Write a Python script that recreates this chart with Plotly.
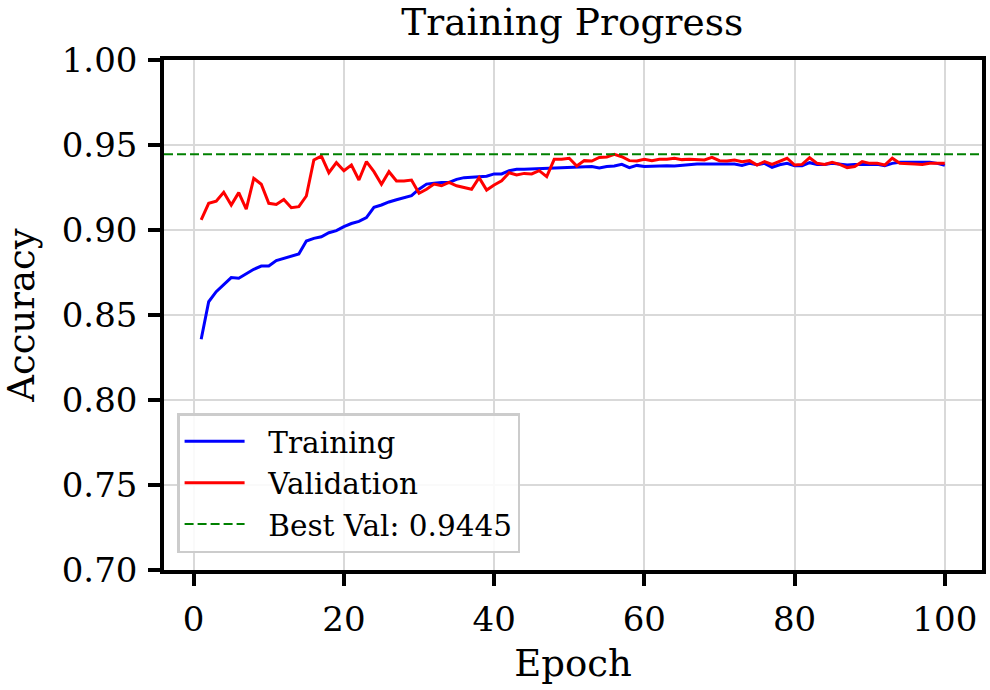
import plotly.graph_objects as go

epochs = list(range(1, 101))
train_acc = [
    0.8357, 0.8578, 0.8637, 0.8680, 0.8720, 0.8716, 0.8745, 0.8769, 0.8788, 0.8788,
    0.8820, 0.8833, 0.8843, 0.8859, 0.8935, 0.8951, 0.8960, 0.8984, 0.8996, 0.9020,
    0.9038, 0.9051, 0.9073, 0.9133, 0.9147, 0.9165, 0.9178, 0.9192, 0.9202, 0.9240,
    0.9270, 0.9275, 0.9280, 0.9280, 0.9298, 0.9308, 0.9312, 0.9314, 0.9316, 0.9330,
    0.9330, 0.9349, 0.9357, 0.9357, 0.9359, 0.9361, 0.9363, 0.9365, 0.9365, 0.9367,
    0.9369, 0.9371, 0.9373, 0.9365, 0.9373, 0.9376, 0.9386, 0.9367, 0.9380, 0.9373,
    0.9376, 0.9378, 0.9378, 0.9376, 0.9380, 0.9386, 0.9388, 0.9388, 0.9388, 0.9388,
    0.9386, 0.9388, 0.9380, 0.9392, 0.9384, 0.9392, 0.9369, 0.9384, 0.9392, 0.9378,
    0.9378, 0.9396, 0.9386, 0.9386, 0.9392, 0.9388, 0.9382, 0.9386, 0.9388, 0.9386,
    0.9386, 0.9378, 0.9392, 0.9398, 0.9398, 0.9398, 0.9398, 0.9398, 0.9392, 0.9380,
]
val_acc = [
    0.9059, 0.9157, 0.9170, 0.9222, 0.9147, 0.9220, 0.9123, 0.9304, 0.9269, 0.9157,
    0.9150, 0.9180, 0.9131, 0.9137, 0.9200, 0.9412, 0.9435, 0.9337, 0.9396, 0.9349,
    0.9382, 0.9294, 0.9402, 0.9343, 0.9269, 0.9343, 0.9288, 0.9288, 0.9294, 0.9216,
    0.9240, 0.9270, 0.9260, 0.9280, 0.9260, 0.9249, 0.9240, 0.9308, 0.9235, 0.9265,
    0.9290, 0.9337, 0.9324, 0.9333, 0.9330, 0.9349, 0.9314, 0.9416, 0.9416, 0.9422,
    0.9376, 0.9408, 0.9406, 0.9427, 0.9430, 0.9445, 0.9431, 0.9408, 0.9406, 0.9416,
    0.9408, 0.9416, 0.9416, 0.9422, 0.9414, 0.9416, 0.9414, 0.9412, 0.9427, 0.9408,
    0.9406, 0.9412, 0.9402, 0.9408, 0.9382, 0.9402, 0.9386, 0.9402, 0.9422, 0.9382,
    0.9386, 0.9425, 0.9392, 0.9386, 0.9398, 0.9386, 0.9367, 0.9373, 0.9402, 0.9392,
    0.9392, 0.9382, 0.9422, 0.9392, 0.9388, 0.9388, 0.9386, 0.9392, 0.9392, 0.9392,
]
x_ticks = [0, 20, 40, 60, 80, 100]
y_ticks = [0.70, 0.75, 0.80, 0.85, 0.90, 0.95, 1.00]

best_val = max(val_acc)
pad = 0.05 * (max(epochs) - min(epochs))
x_range = [min(epochs) - pad, max(epochs) + pad]

FONT = "DejaVu Serif"
GAP = "\u00a0\u00a0"

fig = go.Figure()
fig.add_trace(go.Scatter(x=epochs, y=train_acc, mode="lines", name=GAP + "Training",
                         line=dict(color="#0000ff", width=3)))
fig.add_trace(go.Scatter(x=epochs, y=val_acc, mode="lines", name=GAP + "Validation",
                         line=dict(color="#ff0000", width=3)))
fig.add_trace(go.Scatter(x=x_range, y=[best_val, best_val], mode="lines",
                         name=GAP + f"Best Val: {best_val:.4f}",
                         line=dict(color="#008000", width=2, dash="9px,4px")))

axis_common = dict(
    showline=True, linecolor="black", linewidth=3.5, mirror=True,
    ticks="outside", ticklen=12, tickwidth=3.5, tickcolor="black",
    showgrid=True, gridcolor="#d9d9d9", gridwidth=1.5, zeroline=False,
    tickfont=dict(family=FONT, size=34, color="black"),
    ticklabelstandoff=4,
)

fig.update_layout(
    width=990, height=690,
    margin=dict(l=164, r=4, t=60, b=120),
    paper_bgcolor="white", plot_bgcolor="white",
    font=dict(family=FONT, color="black"),
    title=dict(text="Training Progress", x=0.578, xanchor="center", y=0.968, yanchor="middle",
               font=dict(family=FONT, size=37.5, color="black")),
    xaxis=dict(range=x_range, tickvals=x_ticks, ticktext=[str(t) for t in x_ticks],
               title=dict(text="Epoch", font=dict(family=FONT, size=37), standoff=14),
               **axis_common),
    yaxis=dict(range=[0.70, 1.00], tickvals=y_ticks, ticktext=[f"{t:.2f}" for t in y_ticks],
               title=dict(text="Accuracy", font=dict(family=FONT, size=37), standoff=18),
               **axis_common),
    legend=dict(x=0.016, y=0.033, xanchor="left", yanchor="bottom",
                bgcolor="rgba(255,255,255,0.85)", bordercolor="#cccccc", borderwidth=2.5,
                font=dict(family=FONT, size=29.5, color="black"),
                itemwidth=60),
    showlegend=True,
)

fig.write_html("out.html")
